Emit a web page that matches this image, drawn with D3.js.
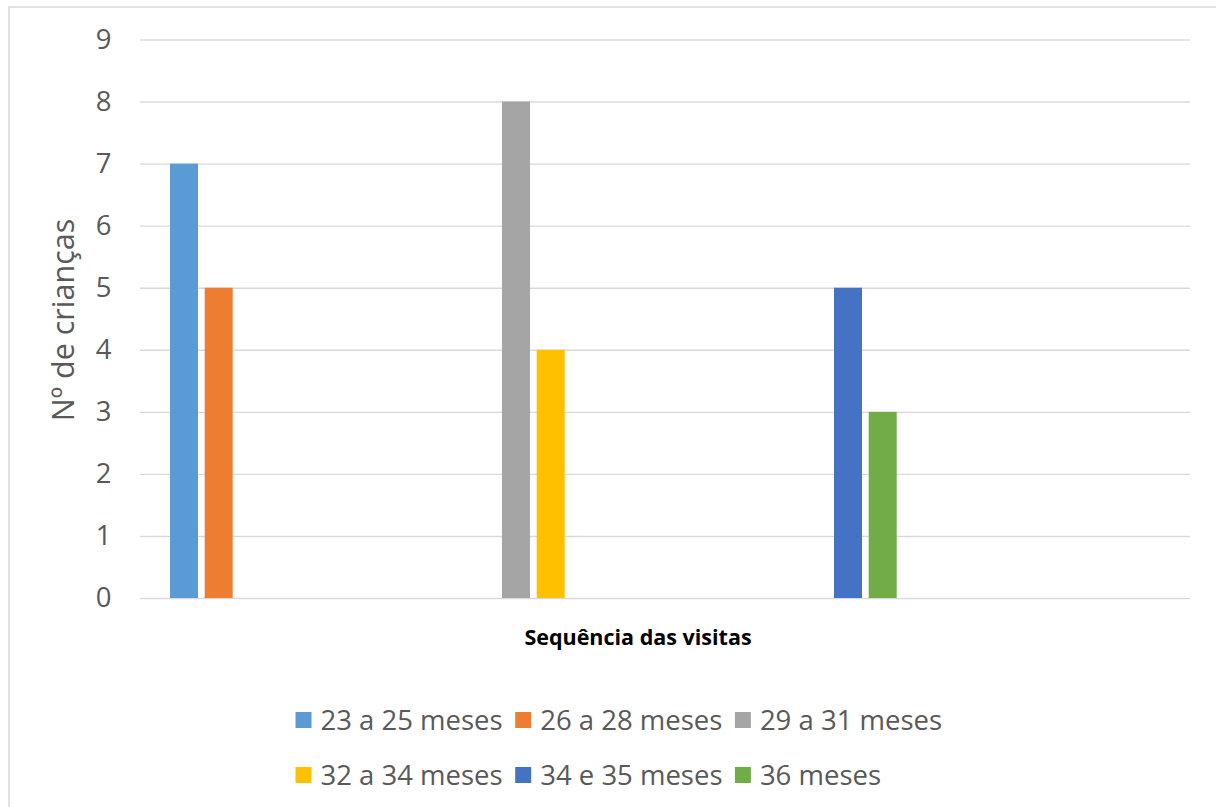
<!DOCTYPE html>
<html>
<head>
<meta charset="utf-8">
<script src="https://cdn.jsdelivr.net/npm/d3@7"></script>
<style>
  html, body { margin: 0; padding: 0; background: #fff; }
  svg { display: block; font-family: "Open Sans", "Noto Sans", sans-serif; }
</style>
</head>
<body>
<svg class="chart" width="1216" height="807"></svg>
<script>
// category groups along the x axis (no visible labels in the original)
var groups = ["1", "2", "3"];
// series (age bands), the group each one sits in, and its value
var seriesNames = ["23 a 25 meses", "26 a 28 meses", "29 a 31 meses",
                   "32 a 34 meses", "34 e 35 meses", "36 meses"];
var seriesGroup = ["1", "1", "2", "2", "3", "3"];
var seriesSlot = [0, 1, 0, 1, 0, 1];
var seriesValues = [7, 5, 8, 4, 5, 3];
var seriesColors = ["#5B9BD5", "#ED7D31", "#A5A5A5", "#FFC000", "#4472C4", "#70AD47"];
var yTicks = [0, 1, 2, 3, 4, 5, 6, 7, 8, 9];

var yTitle = "Nº de crianças";
var xTitle = "Sequência das visitas";

/**
 * Plot area in page pixels
 */
var plot = {left: 140, right: 1190, top: 39.5, bottom: 598};

var svg = d3.select('.chart');

//light frame of the chart area (cut off on the right and bottom)
svg.append('rect')
    .attr('x', 9).attr('y', 7)
    .attr('width', 1400).attr('height', 1000)
    .attr('fill', 'none')
    .attr('stroke', '#d9d9d9')
    .attr('stroke-width', 1.5);

var y = d3.scaleLinear().domain([0, 9]).range([plot.bottom, plot.top]);

//outer band per group, bars sit at the left part of each band
var x0 = d3.scaleBand().domain(groups)
    .range([plot.left, plot.right])
    .paddingInner(0).paddingOuter(0.0813).align(0);
var x1 = d3.scaleBand().domain([0, 1])
    .range([30, 92.7])
    .paddingInner(0.193).paddingOuter(0);

//gridlines and tick labels
var yAxis = svg.append('g')
    .attr('transform', 'translate(' + plot.left + ',0)')
    .call(d3.axisLeft(y).tickValues(yTicks)
        .tickSize(-(plot.right - plot.left))
        .tickPadding(28.5)
        .tickFormat(d3.format('d')));
yAxis.select('.domain').remove();
yAxis.selectAll('line')
    .attr('stroke', '#d9d9d9')
    .attr('stroke-width', 1.4);
yAxis.selectAll('text')
    .attr('fill', '#595959')
    .style('font-size', '27.5px')
    .style('font-family', '"Open Sans", sans-serif');

//bars
var bars = seriesNames.map(function(name, i){
    return {name: name, group: seriesGroup[i], slot: seriesSlot[i],
            value: seriesValues[i], color: seriesColors[i]};
});
svg.append('g').classed('bar-holder', true)
    .selectAll('rect')
    .data(bars)
    .enter()
    .append('rect')
    .attr('x', function(d){return x0(d.group) + x1(d.slot);})
    .attr('y', function(d){return y(d.value);})
    .attr('width', x1.bandwidth())
    .attr('height', function(d){return y(0) - y(d.value);})
    .attr('fill', function(d){return d.color;});

//axis titles
svg.append('text')
    .attr('transform', 'translate(74,320) rotate(-90)')
    .attr('text-anchor', 'middle')
    .attr('fill', '#595959')
    .style('font-size', '30.5px')
    .text(yTitle);

svg.append('text')
    .attr('x', 638).attr('y', 644.5)
    .attr('text-anchor', 'middle')
    .attr('fill', '#000')
    .style('font-size', '21.5px')
    .style('font-weight', 'bold')
    .text(xTitle);

//legend: three columns, two rows
var legend = svg.append('g').classed('legend', true)
    .selectAll('g')
    .data(bars)
    .enter()
    .append('g')
    .attr('transform', function(d, i){
        return 'translate(' + (295.5 + (i % 3) * 219.7) + ',' + (720 + Math.floor(i / 3) * 55) + ')';
    });
legend.append('rect')
    .attr('x', 0).attr('y', -8)
    .attr('width', 16).attr('height', 16)
    .attr('fill', function(d){return d.color;});
legend.append('text')
    .attr('x', 25).attr('y', 0).attr('dy', '0.36em')
    .attr('fill', '#595959')
    .style('font-size', '27.5px')
    .text(function(d){return d.name;});
</script>
</body>
</html>
